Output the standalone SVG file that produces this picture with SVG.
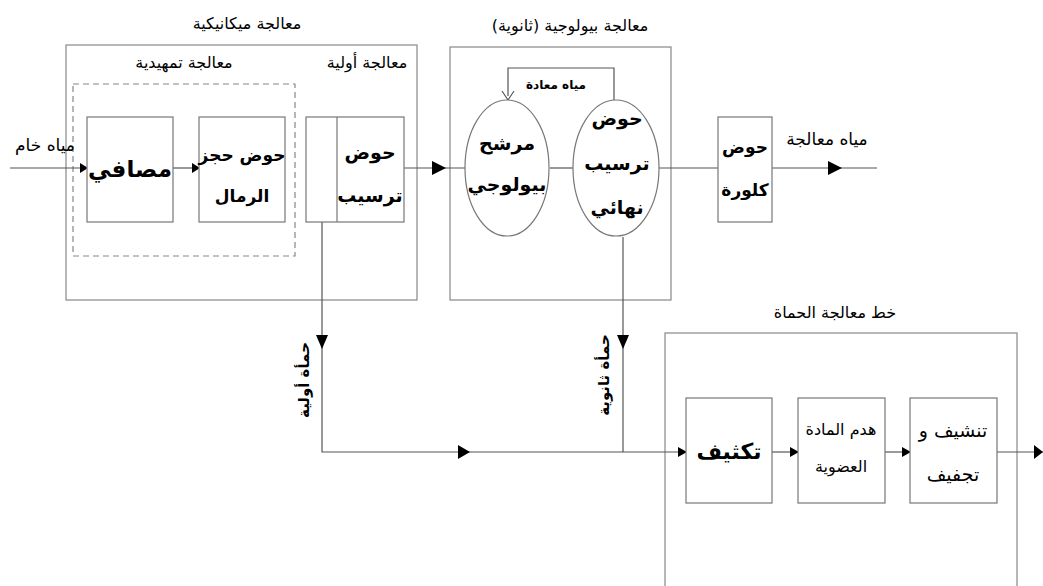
<svg xmlns="http://www.w3.org/2000/svg" width="1043" height="586" viewBox="0 0 1043 586">
<defs>
<style>
.box{fill:#fff;stroke:#777;stroke-width:1.2}
.frame{fill:none;stroke:#888;stroke-width:1.2}
.dash{fill:none;stroke:#888;stroke-width:1.2;stroke-dasharray:6 4}
.ln{fill:none;stroke:#555;stroke-width:1.2}
.ah{fill:#000}
text{font-family:"DejaVu Sans",sans-serif;fill:#000;text-anchor:middle}
.t{font-size:16px}
.b{font-weight:bold}
</style>
</defs>
<rect width="1043" height="586" fill="#fff"/>
<g id="frames">
<rect class="frame" x="66" y="45" width="351" height="255"/>
<rect class="dash" x="73" y="84" width="222" height="172"/>
<rect class="frame" x="450" y="47" width="221" height="253"/>
<rect class="frame" x="665" y="333" width="352" height="260"/>
<text class="t" x="247" y="29">معالجة ميكانيكية</text>
<text class="t" x="184" y="68">معالجة تمهيدية</text>
<text class="t" x="367" y="68">معالجة أولية</text>
<text class="t" x="570" y="31">معالجة بيولوجية  (ثانوية)</text>
<text class="t" x="835" y="318">خط معالجة الحماة</text>
</g>
<g id="connectors">
<path class="ln" d="M10,168H87"/>
<path class="ln" d="M173,168H199"/>
<path class="ln" d="M404,168H465"/>
<path class="ln" d="M550,168H573"/>
<path class="ln" d="M659,168H718"/>
<path class="ln" d="M772,168H877"/>
<path class="ln" d="M614,100V68H508V96"/>
<path class="ln" d="M322,222V452H686"/>
<path class="ln" d="M623,237V452"/>
<path class="ln" d="M772,452H798"/>
<path class="ln" d="M885,452H910"/>
<path class="ln" d="M997,452H1043"/>
<path class="ln" d="M502,91L508,100L514,91" stroke-width="1.8"/>
<polygon class="ah" points="80,163 88,168 80,173"/>
<polygon class="ah" points="192,163 200,168 192,173"/>
<polygon class="ah" points="432,161 446,168 432,175"/>
<polygon class="ah" points="828,161 842,168 828,175"/>
<polygon class="ah" points="316,335 328,335 322,349"/>
<polygon class="ah" points="617,335 629,335 623,349"/>
<polygon class="ah" points="458,445 470,452 458,459"/>
<polygon class="ah" points="678,447 687,452 678,457"/>
<polygon class="ah" points="790,447 799,452 790,457"/>
<polygon class="ah" points="902,447 911,452 902,457"/>
<polygon class="ah" points="1034,445 1043,452 1034,459"/>
<text class="t" x="45" y="151" style="font-size:17px">مياه خام</text>
<text class="t" x="827" y="145" style="font-size:17px">مياه معالجة</text>
<text class="b" x="556" y="89" style="font-size:12px">مياه معادة</text>
<text class="b" transform="translate(309,380) rotate(-90)" style="font-size:15px">حمأة أولية</text>
<text class="b" transform="translate(609,375) rotate(-90)" style="font-size:15px">حمأة ثانوية</text>
</g>
<g id="n_screens">
<rect class="box" x="87" y="117" width="86" height="105"/>
<text class="b" x="130" y="177" style="font-size:23px">مصافي</text>
</g>
<g id="n_grit">
<rect class="box" x="199" y="117" width="86" height="105"/>
<text class="b" x="242" y="161" style="font-size:17px">حوض حجز</text>
<text class="b" x="242" y="202" style="font-size:17px">الرمال</text>
</g>
<g id="n_primary">
<rect class="box" x="306" y="117" width="98" height="105"/>
<line class="box" x1="337" y1="117" x2="337" y2="222"/>
<text class="b" x="370" y="159" style="font-size:19px">حوض</text>
<text class="b" x="370" y="202" style="font-size:19px">ترسيب</text>
</g>
<g id="n_biofilter">
<ellipse class="box" cx="507" cy="168" rx="42" ry="68"/>
<text class="b" x="507" y="150" style="font-size:19px">مرشح</text>
<text class="b" x="507" y="191" style="font-size:19px">بيولوجي</text>
</g>
<g id="n_final">
<ellipse class="box" cx="616" cy="168" rx="43" ry="68"/>
<text class="b" x="617" y="125" style="font-size:19px">حوض</text>
<text class="b" x="617" y="170" style="font-size:19px">ترسيب</text>
<text class="b" x="617" y="214" style="font-size:19px">نهائي</text>
</g>
<g id="n_chlor">
<rect class="box" x="718" y="117" width="54" height="105"/>
<text class="b" x="745" y="153" style="font-size:17px">حوض</text>
<text class="b" x="745" y="196" style="font-size:17px">كلورة</text>
</g>
<g id="n_thick">
<rect class="box" x="686" y="398" width="86" height="105"/>
<text class="b" x="729" y="459" style="font-size:22px">تكثيف</text>
</g>
<g id="n_digest">
<rect class="box" x="798" y="398" width="87" height="105"/>
<text x="841" y="435" style="font-size:16px">هدم المادة</text>
<text x="841" y="472" style="font-size:16px">العضوية</text>
</g>
<g id="n_dry">
<rect class="box" x="910" y="398" width="87" height="105"/>
<text x="953" y="437" style="font-size:19px">تنشيف و</text>
<text x="953" y="481" style="font-size:19px">تجفيف</text>
</g>
</svg>
